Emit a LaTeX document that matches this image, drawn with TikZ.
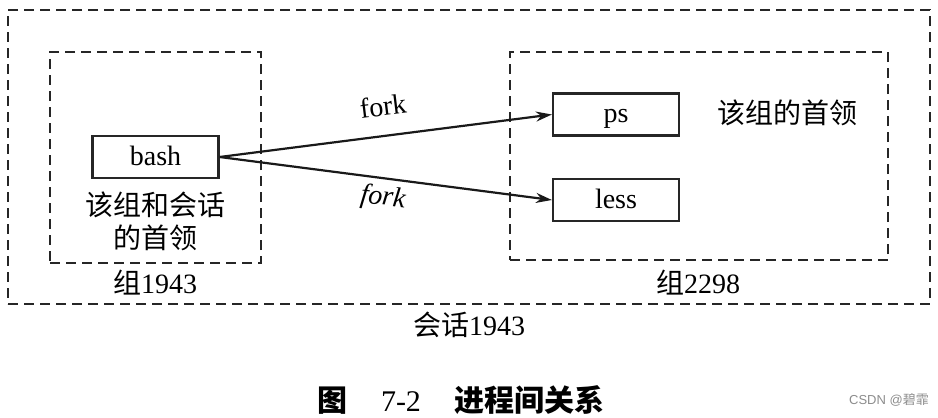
\documentclass[tikz,border=0pt]{standalone}
\usepackage{fontspec}
\setmainfont{Liberation Serif}
\setsansfont{Liberation Sans}
\newfontfamily\cjk{Noto Sans CJK SC}
\usetikzlibrary{arrows.meta, positioning}

\begin{document}
\begin{tikzpicture}[
    x=0.5pt, y=-0.5pt,
    node distance=4pt and 4pt,
    group/.style={rectangle, draw=black!85, line width=1pt,
                  dash pattern=on 5pt off 3pt, inner sep=0pt},
    proc/.style={rectangle, draw=black!85, line width=1.1pt,
                 minimum height=21pt, minimum width=63pt, inner sep=0pt,
                 text height=9pt, text depth=1pt,
                 font=\fontsize{14}{16}\selectfont},
    lbl/.style={font=\fontsize{14}{16.5}\selectfont, align=center, inner sep=0pt},
    arr/.style={-{Stealth[length=8pt, width=5pt]}, line width=1.1pt, draw=black!90},
]
\useasboundingbox (0,0) rectangle (938,418);

% session and process groups
\node[group, minimum width=461pt, minimum height=147pt] (sess) at (469,157) {};
\node[group, minimum width=105.5pt, minimum height=105.5pt] (grpA) at (155.5,157.5) {};
\node[group, minimum width=189pt, minimum height=104pt] (grpB) at (699,156) {};

% processes
\node[proc] (bash) at (155.5,157) {bash};
\node[proc] (ps)   at (616,114.5) {ps};
\node[proc] (less) at (616,200) {less};

\draw[arr] (bash.east) -- (ps.west);
\draw[arr] (bash.east) -- (less.west);

\node[lbl, rotate=7]  (forkA) at (383,106) {fork};
\node[lbl, rotate=-7] (forkB) at (383,198) {\itshape fork};

% labels
\node[lbl] (leadA) at (155,221.5) {\cjk 该组和会话\\\cjk 的首领};
\node[lbl] (leadB) at (787,113) {\cjk 该组的首领};
\node[lbl] (nameA) at (155,283) {{\cjk 组}1943};
\node[lbl] (nameB) at (698,283) {{\cjk 组}2298};
\node[lbl] (nameS) at (469,325) {{\cjk 会话}1943};

% caption
\node[font=\fontsize{15}{17}\selectfont, inner sep=0pt] (cap) at (461,400)
  {{\cjk\bfseries 图}\hspace{17pt}7-2\hspace{17pt}{\cjk\bfseries 进程间关系}};
\node[font=\sffamily\fontsize{6.5}{8}\selectfont, text=black!45, inner sep=0pt] (mark) at (889,400)
  {CSDN @{\cjk 碧霏}};
\end{tikzpicture}
\end{document}
